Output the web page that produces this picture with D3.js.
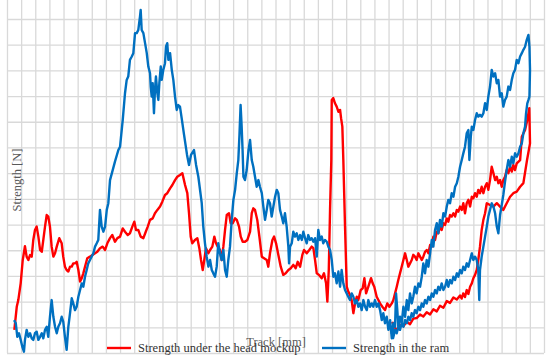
<!DOCTYPE html>
<html lang="en">
<head>
    <meta charset="UTF-8">
    <title>Strength vs track</title>
    <script src="https://cdn.jsdelivr.net/npm/d3@7/dist/d3.min.js"></script>
    <style>
        body { margin: 0; background: #fff; }
        .grid line { stroke: #d9d9d9; stroke-width: 1.3; }
        .grid path { display: none; }
        .axis-title { font-family: "Liberation Serif", serif; font-size: 12.5px; fill: #595959; }
        .legend-text { font-family: "Liberation Serif", serif; font-size: 12.5px; fill: #333; }
    </style>
</head>
<body>
    <svg width="550" height="361" id="chart"></svg>
    <script>
        // grid steps (no tick labels shown in the original)
        const trackTicks = d3.range(0, 381, 10);
        const strengthTicks = d3.range(0, 131, 10);

        const seriesNames = ["Strength under the head mockup", "Strength in the ram"];
        const seriesColors = ["#ff0000", "#0070c0"];

        // [track mm, strength N], in recording order
        const headMockup = [
            [5.2,9.0],[6.9,18.0],[8.0,20.6],[9.7,27.2],[11.1,36.0],[12.7,41.6],[13.9,37.5],[15.1,36.2],[16.3,38.1],[17.5,37.5],
            [18.6,44.0],[19.8,47.9],[21.0,49.2],[22.2,45.3],[23.4,40.1],[24.6,39.4],[25.7,44.0],[26.9,49.2],[28.1,53.7],[29.2,53.1],
            [30.4,49.2],[31.6,41.4],[32.8,37.5],[34.0,38.8],[35.2,41.4],[37.0,44.7],[38.7,42.7],[39.8,37.5],[41.0,33.6],[42.2,32.3],
            [43.4,31.7],[44.6,33.6],[45.8,33.6],[46.9,34.9],[48.1,34.9],[49.3,35.5],[50.5,32.3],[51.7,27.8],[52.9,29.1],[54.0,31.0],
            [55.2,33.6],[56.8,36.9],[58.7,37.5],[60.7,38.2],[62.3,38.8],[63.9,39.4],[65.8,40.8],[67.7,41.4],[69.4,40.1],[71.0,42.7],
            [72.9,44.7],[74.5,45.9],[76.4,43.3],[78.1,44.7],[80.0,45.3],[81.9,48.5],[83.5,47.2],[85.4,45.9],[87.0,46.6],[88.7,49.2],
            [90.1,51.1],[91.3,47.9],[92.9,47.9],[94.6,45.3],[96.5,44.7],[98.2,47.2],[99.6,49.2],[101.2,51.8],[103.1,52.4],[104.7,54.4],
            [106.4,55.7],[108.3,57.0],[109.9,58.9],[111.8,61.5],[113.4,62.2],[115.4,64.1],[117.0,65.4],[118.9,67.3],[120.5,68.6],[122.4,69.3],
            [124.1,70.0],[126.0,65.4],[127.6,62.2],[128.8,54.4],[130.0,45.3],[131.1,42.7],[133.0,44.0],[134.7,44.7],[136.1,40.8],[137.3,36.2],
            [138.5,32.3],[139.6,36.2],[140.8,40.8],[142.5,38.8],[143.7,40.1],[145.3,41.4],[146.7,45.3],[147.9,42.7],[149.1,41.4],[150.7,40.1],
            [151.9,36.2],[153.1,41.4],[154.3,47.9],[155.5,53.7],[157.1,54.4],[158.3,50.5],[159.7,50.5],[161.4,52.4],[162.6,51.8],[164.2,49.2],
            [165.4,45.3],[166.8,43.3],[168.4,43.3],[170.1,44.0],[172.0,47.2],[173.2,54.4],[174.3,56.3],[175.5,55.7],[177.1,51.8],[178.6,45.3],
            [180.3,37.5],[181.9,36.9],[183.8,36.2],[184.9,33.6],[186.1,38.8],[187.8,44.0],[189.0,45.3],[190.4,42.7],[192.0,38.2],[193.7,33.6],
            [195.5,30.4],[197.2,31.0],[199.1,32.3],[200.8,33.0],[202.6,34.3],[204.3,33.0],[205.7,35.5],[207.4,33.6],[209.0,38.2],[210.2,40.1],
            [212.1,38.8],[213.9,40.1],[215.6,41.4],[216.8,40.8],[218.0,36.2],[219.2,31.0],[220.8,30.4],[222.7,29.1],[224.3,31.0],[225.8,27.1],
            [226.7,20.0],[227.7,32.3],[228.6,55.7],[229.5,75.1],[229.8,98.5],[230.9,99.2],[232.1,97.2],[233.3,95.9],[234.5,93.9],[235.7,94.6],
            [236.4,91.4],[237.3,88.1],[238.0,75.1],[239.2,49.2],[240.4,25.8],[241.5,23.9],[242.7,22.6],[243.9,20.6],[245.1,15.5],[246.3,19.3],
            [247.5,21.9],[248.6,20.6],[250.3,24.5],[251.7,25.2],[252.9,29.1],[254.1,23.2],[255.7,25.8],[257.6,29.1],[258.8,27.1],[259.9,25.8],
            [261.6,21.9],[262.8,20.6],[264.0,19.3],[265.6,18.0],[267.5,16.7],[269.1,19.3],[270.6,18.0],[272.3,19.3],[273.4,20.6],[274.6,23.2],
            [275.8,25.8],[276.9,28.4],[278.1,31.0],[279.3,33.6],[280.5,36.2],[281.7,38.8],[282.9,36.2],[284.0,33.6],[285.2,34.9],[286.4,36.2],
            [287.5,38.2],[288.7,37.5],[289.9,36.2],[291.1,38.8],[292.3,37.5],[293.5,36.2],[294.6,37.5],[295.8,39.4],[297.0,40.1],[298.2,38.8],
            [299.4,42.0],[300.6,41.4],[301.7,45.3],[302.9,44.0],[304.1,47.2],[305.2,46.6],[306.4,49.2],[307.6,47.9],[308.8,50.5],[310.0,49.8],
            [311.2,52.4],[312.3,51.1],[313.5,53.7],[314.7,53.1],[315.9,54.4],[317.1,53.1],[318.3,55.7],[319.4,55.0],[320.6,57.0],[321.8,55.7],
            [322.9,58.3],[324.1,54.4],[325.3,58.3],[326.5,59.6],[327.7,57.0],[328.9,60.8],[330.0,60.2],[331.2,62.2],[332.4,60.8],[333.5,63.5],
            [334.7,62.2],[335.9,64.7],[337.1,62.2],[338.3,64.7],[339.5,66.1],[340.6,63.5],[341.8,67.3],[343.0,72.5],[344.2,70.0],[345.4,67.3],
            [346.6,68.6],[347.7,66.1],[348.9,67.3],[350.1,64.7],[351.2,67.3],[352.4,68.6],[353.6,71.2],[354.8,70.0],[356.0,72.5],[357.2,70.6],
            [358.3,73.2],[359.5,71.2],[360.7,73.8],[363.1,75.1],[364.3,84.2],[366.6,86.8],[368.2,90.7],[369.6,95.3],[370.1,81.6],[368.0,75.1],
            [365.4,66.1],[363.1,64.7],[360.7,62.8],[358.3,62.2],[356.0,60.8],[353.6,58.3],[351.2,55.7],[348.9,57.0],[346.6,58.3],[344.2,57.0],
            [341.8,57.6],[339.5,58.3],[338.3,54.4],[337.1,51.8],[335.9,47.9],[334.7,41.4],[333.5,36.2],[332.4,32.3],[331.2,30.4],[330.0,29.1],
            [328.9,27.1],[327.7,25.8],[326.5,23.0],[325.3,24.5],[324.1,21.8],[322.9,23.2],[321.7,21.2],[320.6,22.4],[318.3,20.8],[315.9,21.6],
            [313.5,19.5],[311.2,20.2],[308.8,17.6],[306.4,18.4],[304.1,16.2],[301.7,17.0],[299.4,15.0],[297.0,15.9],[294.6,14.2],[292.3,15.0],
            [289.9,13.6],[287.5,13.4],[285.2,11.2],[282.9,12.2],[280.5,10.4],[278.1,11.0],[275.8,8.6],[272.5,12.1]
        ];

        const ram = [
            [5.0,12.8],[6.2,11.6],[7.3,6.3],[8.5,7.7],[9.7,5.1],[10.8,2.5],[12.0,0.5],[12.7,5.1],[13.9,9.0],[15.1,6.3],
            [16.3,7.7],[17.5,5.7],[18.6,5.1],[19.8,7.7],[21.0,8.3],[22.2,5.1],[23.4,6.3],[24.6,7.7],[25.7,5.7],[26.9,9.0],
            [28.1,10.2],[29.2,6.3],[30.4,14.1],[31.6,20.6],[32.8,14.1],[34.0,10.2],[35.2,7.7],[36.3,10.2],[37.5,11.6],[38.7,14.1],
            [39.8,12.2],[41.0,6.3],[42.2,1.2],[43.4,10.2],[44.6,15.5],[45.8,21.3],[46.9,19.3],[48.1,16.7],[49.3,18.0],[50.5,21.9],
            [51.7,24.5],[52.9,27.1],[54.0,25.8],[55.2,29.7],[56.4,32.3],[57.5,34.9],[58.7,36.2],[59.9,37.5],[61.1,38.8],[62.3,41.4],
            [63.5,42.7],[64.6,44.0],[65.8,55.7],[67.0,49.2],[68.2,47.2],[69.4,49.2],[70.6,55.7],[71.7,58.3],[72.9,67.3],[74.8,71.2],
            [76.4,74.5],[78.8,79.0],[80.0,80.3],[81.9,90.7],[83.5,101.1],[84.7,106.3],[85.8,107.6],[87.0,114.1],[88.3,115.4],[89.4,116.7],
            [90.6,124.5],[91.8,124.5],[92.9,125.7],[94.1,130.9],[94.6,133.5],[95.3,125.7],[96.5,124.5],[97.7,120.6],[98.9,116.7],[100.0,111.5],
            [101.2,108.9],[101.7,103.7],[102.4,99.8],[103.1,105.0],[104.0,93.3],[104.7,102.4],[105.4,107.6],[106.4,101.1],[107.1,98.5],[107.8,105.0],
            [108.8,111.5],[109.5,106.3],[110.6,110.2],[111.8,112.8],[112.5,119.2],[113.4,120.6],[114.2,114.1],[115.4,116.7],[116.6,110.2],[117.7,106.3],
            [118.9,99.8],[120.1,94.6],[121.2,96.5],[122.4,95.9],[123.6,91.4],[125.3,84.9],[127.4,77.1],[128.8,73.2],[130.2,77.1],[132.3,79.0],
            [133.8,73.2],[135.4,68.6],[137.8,58.3],[138.9,49.2],[140.1,42.7],[141.3,37.5],[142.5,33.6],[143.7,36.2],[144.9,32.3],[146.0,31.0],
            [147.2,29.7],[148.4,33.6],[149.5,42.7],[150.7,38.8],[151.9,36.2],[153.1,40.1],[154.3,32.3],[155.5,29.7],[156.6,36.2],[157.8,41.4],
            [159.0,51.8],[160.2,59.6],[161.4,63.5],[162.6,70.0],[163.7,75.1],[164.5,84.9],[165.3,96.5],[166.0,88.7],[166.7,79.0],[167.3,68.6],
            [168.4,67.3],[169.6,71.2],[170.9,79.0],[172.0,82.9],[173.2,75.1],[174.3,72.5],[175.5,68.6],[176.7,64.7],[177.9,67.3],[179.0,64.7],
            [180.3,62.2],[181.4,57.0],[182.6,51.8],[183.8,55.7],[184.9,59.6],[186.1,58.3],[187.3,53.1],[188.5,57.0],[189.7,60.8],[190.9,63.5],
            [192.0,62.2],[193.2,55.7],[194.4,53.1],[195.5,50.5],[196.7,54.4],[197.9,49.2],[199.1,41.4],[199.6,34.9],[200.3,41.4],[201.5,42.7],
            [202.6,47.2],[203.8,45.3],[205.0,46.6],[206.2,44.0],[207.4,45.9],[208.6,44.0],[209.7,47.2],[210.9,44.7],[212.1,42.7],[213.2,45.9],
            [214.4,44.0],[215.6,44.7],[216.8,43.3],[218.0,44.7],[219.2,37.5],[220.3,47.9],[221.5,44.0],[222.7,45.3],[223.8,42.7],[225.0,44.0],
            [226.3,43.3],[227.4,41.4],[228.6,40.1],[229.8,36.2],[230.9,29.7],[232.1,31.0],[233.3,27.1],[234.5,31.7],[235.7,25.8],[236.8,32.3],
            [238.0,27.1],[239.2,24.5],[240.4,23.2],[241.5,21.9],[242.7,20.6],[243.9,23.2],[245.1,21.9],[246.3,19.3],[247.5,20.6],[248.6,18.0],
            [249.8,19.3],[251.0,16.7],[252.2,20.6],[253.4,18.0],[254.6,16.7],[255.7,20.6],[256.9,18.0],[258.1,19.3],[259.2,18.0],[260.4,20.6],
            [261.6,18.0],[262.8,19.3],[264.0,16.7],[265.2,12.8],[266.3,15.5],[267.5,11.6],[268.7,14.1],[269.9,9.0],[271.1,12.8],[272.3,5.7],
            [273.4,11.6],[274.6,10.2],[275.3,23.2],[276.2,16.7],[276.9,10.2],[278.1,14.1],[279.3,11.6],[280.5,18.0],[281.7,14.1],[282.9,20.6],
            [284.0,16.7],[285.2,23.2],[286.4,19.3],[287.5,21.9],[288.7,25.8],[289.9,23.2],[291.1,27.1],[292.3,25.8],[293.5,29.7],[294.6,34.9],
            [295.8,31.0],[297.0,36.2],[298.2,33.6],[299.4,38.8],[300.6,44.0],[301.7,41.4],[302.9,47.9],[304.1,50.5],[305.2,46.6],[306.4,51.8],
            [307.6,49.2],[308.8,54.4],[310.0,53.1],[311.2,57.0],[312.3,59.6],[313.5,58.3],[314.7,62.2],[315.9,60.8],[317.1,64.7],[318.3,66.1],
            [319.4,68.6],[320.6,72.5],[321.8,75.1],[322.9,77.7],[324.1,80.3],[325.3,85.5],[326.5,86.8],[327.2,75.1],[328.2,84.2],[328.9,88.1],
            [330.0,86.8],[331.2,90.7],[332.4,93.3],[333.5,92.0],[334.7,92.7],[335.9,92.0],[337.1,93.3],[338.3,97.2],[339.5,94.6],[340.6,99.8],
            [341.8,103.7],[343.0,110.2],[344.2,107.6],[345.4,108.9],[346.6,105.0],[347.7,106.3],[348.9,99.8],[350.1,101.1],[351.2,95.9],[352.4,98.5],
            [353.6,99.8],[354.8,103.7],[356.0,102.4],[357.2,106.3],[358.3,108.9],[359.5,110.2],[360.7,114.1],[361.9,112.8],[363.1,115.4],[364.3,116.7],
            [365.4,118.0],[366.6,119.2],[367.8,121.9],[369.0,123.8],[369.7,119.2],[370.1,110.2],[369.7,99.8],[369.0,98.5],[368.2,97.2],[367.3,93.3],
            [366.6,88.1],[365.4,85.5],[364.3,81.6],[363.1,80.3],[361.9,77.7],[360.7,76.4],[359.5,77.7],[358.3,73.8],[357.2,76.4],[356.0,72.5],
            [354.8,75.1],[353.6,71.2],[352.4,66.6],[351.2,61.5],[350.1,57.6],[348.9,53.7],[347.7,46.6],[346.6,49.2],[345.4,54.4],[344.2,57.0],
            [343.0,58.3],[341.8,55.7],[340.6,53.1],[339.5,49.2],[338.3,45.3],[337.1,41.4],[335.9,37.5],[334.7,32.3],[334.2,20.6],[333.5,32.3],
            [332.4,36.2],[331.2,37.5],[330.0,36.2],[328.9,38.8],[327.7,36.2],[326.5,33.6],[325.3,34.9],[324.1,32.3],[322.9,33.6],[321.8,31.0],
            [320.6,32.3],[319.4,29.7],[318.3,31.0],[317.1,28.4],[315.9,29.7],[314.7,27.1],[313.5,28.4],[312.3,25.8],[311.2,28.4],[310.0,25.8],
            [308.8,24.5],[307.6,27.1],[306.4,24.5],[305.2,25.8],[304.1,23.2],[302.9,24.5],[301.7,21.9],[300.6,23.2],[299.4,20.6],[298.2,21.9],
            [297.0,19.3],[295.8,20.6],[294.6,18.0],[293.5,19.3],[292.3,16.7],[291.1,18.0],[289.9,15.5],[288.7,16.7],[287.5,14.1],[286.4,15.5],
            [285.2,12.8],[284.0,14.1],[282.9,11.6],[281.7,12.8],[280.5,10.2],[279.3,11.6],[278.1,9.0],[276.9,10.2],[275.8,7.7],[274.6,9.0],
            [273.2,5.8],[271.8,7.8]
        ];

        const svg = d3.select("#chart");

        const x = d3.scaleLinear().domain([0, 380]).range([7, 544]);
        const y = d3.scaleLinear().domain([0, 140]).range([353, -6.7]);

        // vertical grid
        svg.append("g")
            .attr("class", "grid")
            .attr("transform", `translate(0,${y(0)})`)
            .call(d3.axisBottom(x).tickValues(trackTicks).tickSize(-(y(0) - y(140))).tickFormat(""));

        // horizontal grid
        svg.append("g")
            .attr("class", "grid")
            .attr("transform", `translate(${x(0)},0)`)
            .call(d3.axisLeft(y).tickValues(strengthTicks).tickSize(-(x(380) - x(0))).tickFormat(""));

        svg.append("text")
            .attr("class", "axis-title")
            .attr("transform", "rotate(-90)")
            .attr("x", -180)
            .attr("y", 21)
            .attr("text-anchor", "middle")
            .text("Strength [N]");

        const line = d3.line()
            .x(d => x(d[0]))
            .y(d => y(d[1]));

        [headMockup, ram].forEach((s, i) => {
            svg.append("path")
                .datum(s)
                .attr("fill", "none")
                .attr("stroke", seriesColors[i])
                .attr("stroke-width", 2.4)
                .attr("stroke-linejoin", "round")
                .attr("d", line);
        });

        // x title sits on top of the legend, as in the original
        svg.append("text")
            .attr("class", "axis-title")
            .attr("x", 276)
            .attr("y", 346)
            .attr("text-anchor", "middle")
            .text("Track [mm]");

        // legend
        const legendX = [107, 322];
        const legend = svg.selectAll(".legend")
            .data(seriesNames)
            .enter().append("g")
            .attr("class", "legend")
            .attr("transform", (d, i) => `translate(${legendX[i]},348)`);

        legend.append("line")
            .attr("x1", 0).attr("x2", 24)
            .attr("stroke", (d, i) => seriesColors[i])
            .attr("stroke-width", 2.4);

        legend.append("text")
            .attr("class", "legend-text")
            .attr("x", 31)
            .attr("y", 4)
            .text(d => d);
    </script>
</body>
</html>
